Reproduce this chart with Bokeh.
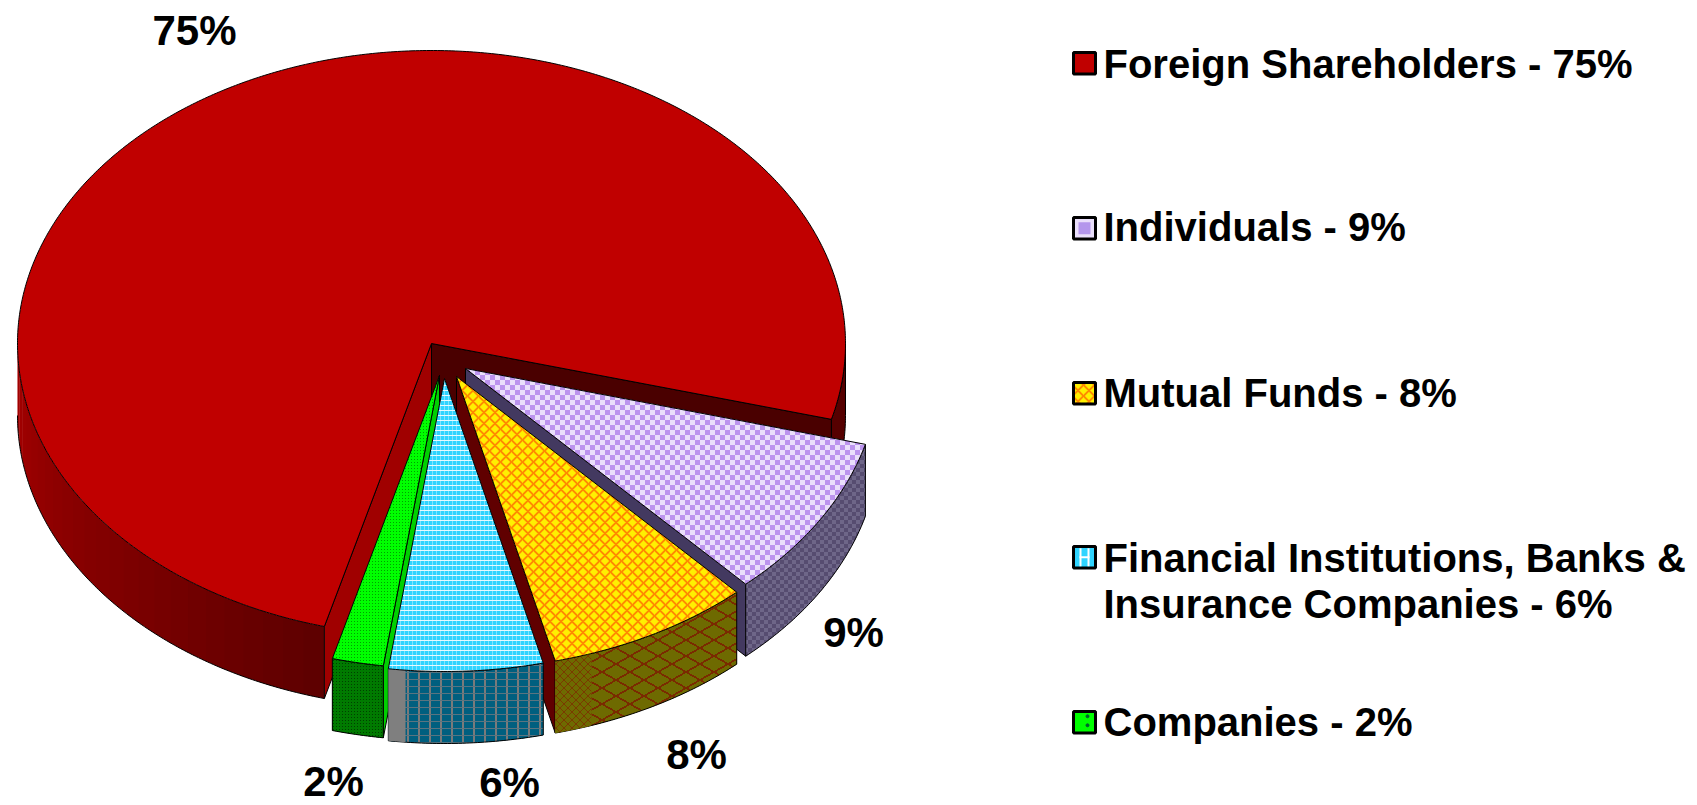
import base64, struct, zlib
import numpy as np
from bokeh.plotting import figure
from bokeh.embed import file_html
from bokeh.resources import INLINE
from bokeh.core.properties import value
from bokeh.models import ImageURLTexture

# ---- data ----
names = ["Foreign Shareholders", "Individuals", "Mutual Funds",
         "Financial Institutions, Banks & Insurance Companies", "Companies"]
shares = [75, 9, 8, 6, 2]
label_text = ["75%", "9%", "8%", "6%", "2%"]
legend_lines = ["Foreign Shareholders - 75%", "Individuals - 9%", "Mutual Funds - 8%",
                "Financial Institutions, Banks &", "Insurance Companies - 6%", "Companies - 2%"]

# ---- layout (page pixels of the reference) ----
W, H = 1697, 805
CX, CY, RA, RB, DEPTH = 431.0, 343.0, 414.0, 293.0, 72.0
START = 15.0
explode_dx = [0, 34, 25, 13, 8]
explode_dy = [0, 25, 33, 35, 32]
label_x = [194, 853, 696, 509, 333]
label_y = [30, 632, 754, 782, 781]
legend_x = 1103
legend_base = [63, 226, 392, 557, 603, 721]
swatch_top = [52, 217, 382, 546, 711]
swatch_h = 21.5
swatch_x0, swatch_x1 = 1073, 1095


def rgb(h):
    return [int(h[i:i + 2], 16) for i in (1, 3, 5)]


def png_url(arr):
    arr = np.asarray(arr, dtype=np.uint8)
    h, w, _ = arr.shape
    raw = b"".join(b"\x00" + arr[r].tobytes() for r in range(h))

    def chunk(tag, d):
        return struct.pack(">I", len(d)) + tag + d + struct.pack(">I", zlib.crc32(tag + d) & 0xFFFFFFFF)

    data = b"\x89PNG\r\n\x1a\n" + chunk(b"IHDR", struct.pack(">IIBBBBB", w, h, 8, 2, 0, 0, 0)) \
        + chunk(b"IDAT", zlib.compress(raw)) + chunk(b"IEND", b"")
    return "data:image/png;base64," + base64.b64encode(data).decode()


def tile_checker(n, c0, c1):
    t = np.zeros((2 * n, 2 * n, 3))
    yy, xx = np.mgrid[0:2 * n, 0:2 * n]
    m = ((xx // n + yy // n) % 2 == 0)
    t[m] = rgb(c0)
    t[~m] = rgb(c1)
    return t


def tile_lattice(nx, ny, base, ring, line, r_ring=0.42, r_line=0.17):
    t = np.zeros((ny, nx, 3))
    yy, xx = np.mgrid[0:ny, 0:nx]
    u = np.abs(((xx + 0.5) / nx) % 1 - 0.5) * 2
    v = np.abs(((yy + 0.5) / ny) % 1 - 0.5) * 2
    d = np.abs(u + v - 1)
    t[:] = rgb(base)
    if ring:
        t[d < r_ring] = rgb(ring)
    t[d < r_line] = rgb(line)
    return t


def tile_grid(nx, ny, base, vline, hline, vw=1, hw=1):
    t = np.zeros((ny, nx, 3))
    t[:] = rgb(base)
    t[:, :vw] = rgb(vline)
    t[:hw, :] = rgb(hline)
    return t


def tile_dots(nx, ny, base, dot):
    t = np.zeros((ny, nx, 3))
    t[:] = rgb(base)
    t[0, 0] = rgb(dot)
    return t


textures = {
    "ind_top": tile_checker(5, "#EADFFB", "#BC94EE"),
    "ind_wall": tile_checker(4, "#6E6688", "#564C70"),
    "mut_top": tile_lattice(11, 11, "#FFF000", "#FFCC00", "#FF8A00", 0.42, 0.14),
    "mut_wall": tile_lattice(28, 16, "#6E6A00", None, "#7A2A00", 0.36, 0.12),
    "mut_wall_fine": tile_lattice(8, 8, "#6E6A00", None, "#7A3A00", 0.36, 0.2),
    "fin_top": tile_grid(4, 5, "#2FD4FF", "#7FE4FF", "#E6FBFF", 1, 1),
    "fin_wall": tile_grid(11, 7, "#005F7F", "#7A7A7A", "#5A7480", 2, 1),
    "com_top": tile_dots(3, 3, "#00FF00", "#00A000"),
    "com_wall": tile_dots(3, 3, "#007A00", "#003F00"),
}
extra = {k: ImageURLTexture(url=png_url(v)) for k, v in textures.items()}

top_fill = ["#C00000", "#EADFFB", "#FFF000", "#2FD4FF", "#00FF00"]
top_pat = [None, "ind_top", "mut_top", "fin_top", "com_top"]
wall_fill = ["#A00000", "#6E6688", "#6E6A00", "#005F7F", "#007A00"]
wall_pat = [None, "ind_wall", "mut_wall", "fin_wall", "com_wall"]
cut_start = ["#A00000", None, None, None, "#00D000"]
cut_end = ["#4A0000", "#433960", "#600000", None, None]

p = figure(width=W, height=H, x_range=(0, W), y_range=(H, 0),
           toolbar_location=None, output_backend="svg", min_border=0,
           background_fill_color="white", border_fill_color="white", outline_line_color=None)
p.axis.visible = False
p.grid.visible = False


def rim(t, ox, oy, dz=0.0):
    t = np.radians(t)
    return CX + ox + RA * np.cos(t), CY + oy + RB * np.sin(t) + dz


def arc(a, b, ox, oy, dz=0.0):
    n = max(2, int(abs(b - a) * 2))
    return rim(np.linspace(a, b, n), ox, oy, dz)


def lerp_hex(c0, c1, f):
    a, b = rgb(c0), rgb(c1)
    return "#%02X%02X%02X" % tuple(int(round(x + (y - x) * f)) for x, y in zip(a, b))


def cut_face(angle, ox, oy, color):
    rx, ry = rim(angle, ox, oy)
    p.patch([CX + ox, rx, rx, CX + ox], [CY + oy, ry, ry + DEPTH, CY + oy + DEPTH],
            fill_color=color, line_color="black", line_width=1)


def textured_patch(xs, ys, fill, pat, line="black"):
    p.patch(xs, ys, fill_color=fill, hatch_pattern=pat, hatch_extra=extra if pat else {},
            line_color=line, line_width=1)


spans = [s * 3.6 for s in shares]
angles = {}
a = START
for i in [1, 2, 3, 4]:
    angles[i] = (a, a + spans[i])
    a += spans[i]
angles[0] = (a, a + spans[0])

# main slice
a0, a1 = angles[0]
step = 3.0
for t in np.arange(a0, 180.0, step):
    e = min(t + step + 0.4, 180.0)
    x0, y0 = arc(t, e, 0, 0)
    x1, y1 = arc(e, t, 0, 0, DEPTH)
    f = (t - a0) / (180.0 - a0)
    p.patch(list(x0) + list(x1), list(y0) + list(y1), fill_color=lerp_hex("#5E0000", "#A80000", f), line_color=None)
x0, y0 = arc(a0, 180.0, 0, 0)
p.line(list(x0), list(y0 + DEPTH), line_color="black", line_width=1)
x0, y0 = arc(360.0, a1, 0, 0)
x1, y1 = arc(a1, 360.0, 0, 0, DEPTH)
p.patch(list(x0) + list(x1), list(y0) + list(y1), fill_color="#560000", line_color="black", line_width=1)
cut_face(a0, 0, 0, cut_start[0])
cut_face(a1, 0, 0, cut_end[0])
x, y = arc(a0, a1, 0, 0)
p.patch([CX] + list(x), [CY] + list(y), fill_color=top_fill[0], line_color="black", line_width=1)

# exploded slices, back to front
for i in [1, 2, 4, 3]:
    a, b = angles[i]
    ox, oy = explode_dx[i], explode_dy[i]
    if cut_start[i]:
        cut_face(a, ox, oy, cut_start[i])
    if cut_end[i]:
        cut_face(b, ox, oy, cut_end[i])
    x0, y0 = arc(a, b, ox, oy)
    x1, y1 = arc(b, a, ox, oy, DEPTH)
    textured_patch(list(x0) + list(x1), list(y0) + list(y1), wall_fill[i], wall_pat[i])
    if i == 3:
        # the plain grey band at the left end of this wall
        gx0, gy0 = arc(b - 2.4, b, ox, oy)
        gx1, gy1 = arc(b, b - 2.4, ox, oy, DEPTH)
        p.patch(list(gx0) + list(gx1), list(gy0) + list(gy1), fill_color="#7F7F7F", line_color=None)
    if i == 2:
        # the finer weave at the left end of this wall
        gx0, gy0 = arc(b - 5.2, b, ox, oy)
        gx1, gy1 = arc(b, b - 5.2, ox, oy, DEPTH)
        textured_patch(list(gx0) + list(gx1), list(gy0) + list(gy1), wall_fill[i], "mut_wall_fine", line=None)
    x, y = arc(a, b, ox, oy)
    textured_patch([CX + ox] + list(x), [CY + oy] + list(y), top_fill[i], top_pat[i])

# data labels
p.text(label_x, label_y, text=label_text, text_font=value("Liberation Sans"), text_font_style="bold",
       text_font_size="42px", text_color="black", text_align="center", text_baseline="alphabetic")

# legend
p.text([legend_x] * len(legend_lines), legend_base, text=legend_lines, text_font=value("Liberation Sans"),
       text_font_style="bold", text_font_size="40px", text_color="black", text_align="left",
       text_baseline="alphabetic")
for i in range(5):
    kw = {"hatch_pattern": value("mut_top"), "hatch_extra": extra} if i == 2 else {}
    p.quad(left=[swatch_x0], right=[swatch_x1], top=[swatch_top[i]], bottom=[swatch_top[i] + swatch_h],
           fill_color=top_fill[i], line_color="black", line_width=3, **kw)
    cxs = (swatch_x0 + swatch_x1) / 2
    cys = swatch_top[i] + swatch_h / 2
    if i == 1:
        p.quad(left=[cxs - 6], right=[cxs + 6], top=[cys - 6], bottom=[cys + 6], fill_color="#B496EC", line_color=None)
    if i == 3:
        p.quad(left=[cxs - 5, cxs + 3], right=[cxs - 3, cxs + 5], top=[cys - 9, cys - 9], bottom=[cys + 9, cys + 9],
               fill_color="white", line_color=None)
        p.quad(left=[cxs - 5], right=[cxs + 5], top=[cys - 1], bottom=[cys + 1], fill_color="white", line_color=None)
    if i == 4:
        p.scatter([cxs + 3, cxs + 3], [cys - 6, cys + 3], size=3, color="#006030")

open("out.html", "w").write(file_html(p, INLINE))
